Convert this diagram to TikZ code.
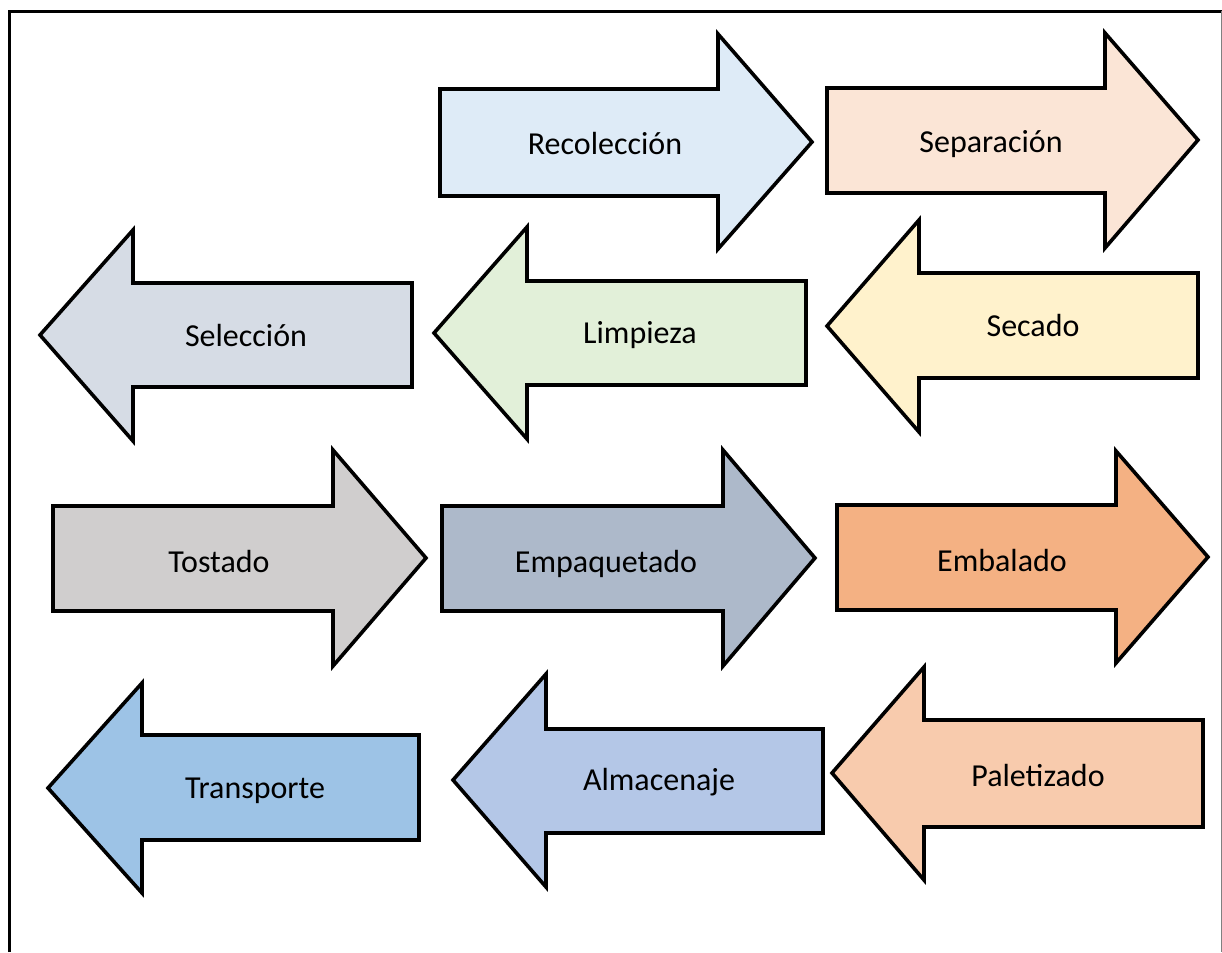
\documentclass[tikz,border=0pt]{standalone}
\usepackage{fontspec}
\setmainfont{Carlito}
\definecolor{cRec}{HTML}{DEEBF7}
\definecolor{cSep}{HTML}{FBE5D6}
\definecolor{cSel}{HTML}{D6DCE5}
\definecolor{cLim}{HTML}{E2F0D9}
\definecolor{cSec}{HTML}{FFF2CC}
\definecolor{cTos}{HTML}{D0CECE}
\definecolor{cEmp}{HTML}{ADB9CA}
\definecolor{cEmb}{HTML}{F4B183}
\definecolor{cTra}{HTML}{9DC3E6}
\definecolor{cAlm}{HTML}{B4C7E7}
\definecolor{cPal}{HTML}{F8CBAD}
\tikzset{
  arrowshape/.style={draw=black, line width=3.6pt, line join=miter, miter limit=10},
  lbl/.style={anchor=base, inner sep=0pt, font=\fontsize{32}{38}\selectfont, text=black},
  frame/.style={draw=black, line width=3.6pt},
}
\begin{document}
\begin{tikzpicture}[x=1pt,y=-1pt]
\useasboundingbox (0,0) rectangle (1222,952);
% outer frame
\draw[frame] (9.5,952) -- (9.5,11.5) -- (1222,11.5);
\draw[draw=gray, line width=1pt] (1221,11.5) -- (1221,952);

% Row 1
\path[arrowshape, fill=cRec] (440,89) -- (718,89) -- (718,34) -- (812,142) -- (718,249) -- (718,196) -- (440,196) -- cycle;
\node[lbl] (rec) at (605,155) {Recolección};

\path[arrowshape, fill=cSep] (827,88) -- (1105,88) -- (1105,33) -- (1198,140) -- (1105,248) -- (1105,193) -- (827,193) -- cycle;
\node[lbl] (sep) at (991,153) {Separación};

% Row 2 (left arrows)
\path[arrowshape, fill=cSel] (412,283) -- (133,283) -- (133,230) -- (40,335) -- (133,441) -- (133,387) -- (412,387) -- cycle;
\node[lbl] (sel) at (246,346) {Selección};

\path[arrowshape, fill=cLim] (806,281) -- (527,281) -- (527,227) -- (434,333) -- (527,439) -- (527,385) -- (806,385) -- cycle;
\node[lbl] (lim) at (640,343) {Limpieza};

\path[arrowshape, fill=cSec] (1198,273) -- (919,273) -- (919,220) -- (827,326) -- (919,432) -- (919,378) -- (1198,378) -- cycle;
\node[lbl] (sec) at (1033,336) {Secado};

% Row 3 (right arrows)
\path[arrowshape, fill=cTos] (53,506) -- (333,506) -- (333,450) -- (426,558) -- (333,666) -- (333,611) -- (53,611) -- cycle;
\node[lbl] (tos) at (219,572) {Tostado};

\path[arrowshape, fill=cEmp] (442,506) -- (723,506) -- (723,450) -- (815,558) -- (723,666) -- (723,611) -- (442,611) -- cycle;
\node[lbl] (emp) at (606,572) {Empaquetado};

\path[arrowshape, fill=cEmb] (837,505) -- (1116,505) -- (1116,451) -- (1208,557) -- (1116,663) -- (1116,610) -- (837,610) -- cycle;
\node[lbl] (emb) at (1002,571) {Embalado};

% Row 4 (left arrows)
\path[arrowshape, fill=cTra] (419,735) -- (142,735) -- (142,683) -- (48,788) -- (142,893) -- (142,840) -- (419,840) -- cycle;
\node[lbl] (tra) at (255,798) {Transporte};

\path[arrowshape, fill=cAlm] (823,729) -- (546,729) -- (546,674) -- (453,780) -- (546,887) -- (546,833) -- (823,833) -- cycle;
\node[lbl] (alm) at (659,790) {Almacenaje};

\path[arrowshape, fill=cPal] (1203,720) -- (924,720) -- (924,667) -- (832,773) -- (924,880) -- (924,827) -- (1203,827) -- cycle;
\node[lbl] (pal) at (1038,786) {Paletizado};
\end{tikzpicture}
\end{document}
